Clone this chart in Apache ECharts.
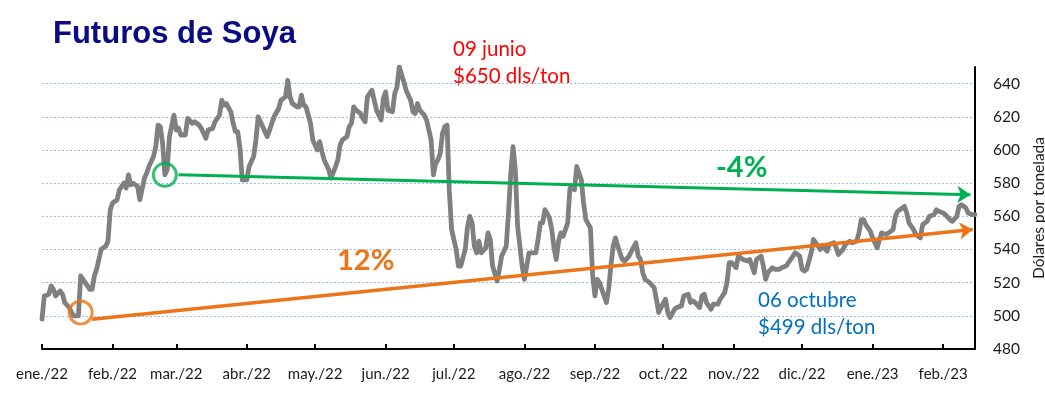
<!DOCTYPE html>
<html><head><meta charset="utf-8">
<script src="https://cdn.jsdelivr.net/npm/echarts@6/dist/echarts.min.js"></script>
<style>html,body{margin:0;padding:0;background:#fff}#c{width:1045px;height:395px}</style>
</head><body><div id="c"></div>
<script>
// ---- data ----
const dates = [
'2022-01-03','2022-01-04','2022-01-06','2022-01-07','2022-01-08','2022-01-09','2022-01-11','2022-01-12','2022-01-13','2022-01-15','2022-01-16','2022-01-17','2022-01-19','2022-01-20','2022-01-21','2022-01-23','2022-01-24','2022-01-25','2022-01-26','2022-01-27','2022-01-28','2022-01-29','2022-01-31',
'2022-02-01','2022-02-02','2022-02-03','2022-02-05','2022-02-06','2022-02-08','2022-02-09','2022-02-10','2022-02-11','2022-02-12','2022-02-14','2022-02-15','2022-02-17','2022-02-18','2022-02-19','2022-02-21','2022-02-22','2022-02-23','2022-02-24','2022-02-25','2022-02-26','2022-02-27','2022-02-28',
'2022-03-02','2022-03-03','2022-03-04','2022-03-05','2022-03-07','2022-03-08','2022-03-10','2022-03-11','2022-03-13','2022-03-14','2022-03-16','2022-03-17','2022-03-19','2022-03-20','2022-03-22','2022-03-23','2022-03-24','2022-03-25','2022-03-27','2022-03-28','2022-03-29','2022-03-30','2022-03-31',
'2022-04-01','2022-04-03','2022-04-04','2022-04-06','2022-04-07','2022-04-08','2022-04-10','2022-04-12','2022-04-14','2022-04-15','2022-04-17','2022-04-18','2022-04-20','2022-04-21','2022-04-22','2022-04-23','2022-04-25','2022-04-26','2022-04-27','2022-04-28','2022-04-29',
'2022-05-01','2022-05-02','2022-05-04','2022-05-05','2022-05-06','2022-05-07','2022-05-09','2022-05-10','2022-05-12','2022-05-13','2022-05-14','2022-05-15','2022-05-17','2022-05-18','2022-05-19','2022-05-20','2022-05-21','2022-05-23','2022-05-24','2022-05-25','2022-05-26','2022-05-28','2022-05-29','2022-05-30',
'2022-06-01','2022-06-02','2022-06-03','2022-06-04','2022-06-06','2022-06-07','2022-06-08','2022-06-09','2022-06-11','2022-06-12','2022-06-14','2022-06-15','2022-06-16','2022-06-17','2022-06-18','2022-06-20','2022-06-21','2022-06-23','2022-06-24','2022-06-25','2022-06-26','2022-06-27','2022-06-28','2022-06-29','2022-06-30',
'2022-07-01','2022-07-02','2022-07-04','2022-07-05','2022-07-06','2022-07-08','2022-07-09','2022-07-10','2022-07-11','2022-07-12','2022-07-13','2022-07-14','2022-07-15','2022-07-17','2022-07-18','2022-07-19','2022-07-20','2022-07-22','2022-07-23','2022-07-24','2022-07-26','2022-07-27','2022-07-28','2022-07-29','2022-07-30','2022-07-31',
'2022-08-02','2022-08-03','2022-08-04','2022-08-05','2022-08-06','2022-08-08','2022-08-09','2022-08-10','2022-08-11','2022-08-12','2022-08-14','2022-08-15','2022-08-16','2022-08-17','2022-08-18','2022-08-19','2022-08-20','2022-08-22','2022-08-23','2022-08-24','2022-08-25','2022-08-26','2022-08-28','2022-08-29','2022-08-30',
'2022-09-01','2022-09-02','2022-09-03','2022-09-04','2022-09-05','2022-09-06','2022-09-08','2022-09-09','2022-09-10','2022-09-11','2022-09-12','2022-09-13','2022-09-15','2022-09-16','2022-09-18','2022-09-19','2022-09-21','2022-09-22','2022-09-23','2022-09-24','2022-09-25','2022-09-27','2022-09-29','2022-09-30',
'2022-10-01','2022-10-02','2022-10-04','2022-10-05','2022-10-06','2022-10-08','2022-10-09','2022-10-11','2022-10-12','2022-10-14','2022-10-15','2022-10-16','2022-10-17','2022-10-19','2022-10-20','2022-10-21','2022-10-22','2022-10-24','2022-10-25','2022-10-27','2022-10-28','2022-10-30','2022-10-31',
'2022-11-01','2022-11-02','2022-11-04','2022-11-05','2022-11-06','2022-11-07','2022-11-09','2022-11-10','2022-11-11','2022-11-12','2022-11-13','2022-11-15','2022-11-16','2022-11-17','2022-11-18','2022-11-20','2022-11-21','2022-11-23','2022-11-24','2022-11-26','2022-11-27','2022-11-29','2022-11-30',
'2022-12-02','2022-12-03','2022-12-04','2022-12-05','2022-12-07','2022-12-08','2022-12-09','2022-12-11','2022-12-12','2022-12-14','2022-12-15','2022-12-17','2022-12-18','2022-12-19','2022-12-21','2022-12-22','2022-12-24','2022-12-25','2022-12-27','2022-12-28','2022-12-29','2022-12-30','2022-12-31',
'2023-01-02','2023-01-03','2023-01-05','2023-01-06','2023-01-07','2023-01-09','2023-01-10','2023-01-12','2023-01-13','2023-01-14','2023-01-16','2023-01-17','2023-01-18','2023-01-19','2023-01-21','2023-01-22','2023-01-24','2023-01-25','2023-01-27','2023-01-28','2023-01-30','2023-01-31',
'2023-02-01','2023-02-03','2023-02-04','2023-02-06','2023-02-07','2023-02-09','2023-02-10','2023-02-11','2023-02-13','2023-02-14','2023-02-16','2023-02-17'
];
const prices = [
498,512,513,518,516,512,515,513,508,505,502,500,500,524,522,518,516,516,524,528,534,540,542,
545,564,568,570,576,580,577,585,579,580,578,570,583,586,590,596,602,615,614,604,585,588,608,
621,612,613,609,609,619,616,617,615,613,607,612,613,617,621,630,627,628,623,616,611,611,601,
582,582,590,596,606,620,614,608,616,620,625,630,632,642,632,628,626,626,633,627,626,
616,606,600,605,599,594,588,583,590,594,603,606,608,614,616,626,624,622,619,617,632,636,630,624,
618,631,635,624,623,634,638,650,641,636,630,623,622,628,624,621,618,606,585,592,594,598,610,614,615,
575,552,540,530,530,540,554,560,556,542,538,545,538,541,550,546,530,521,528,536,542,562,586,602,588,554,
530,522,530,538,538,538,546,556,556,564,559,552,541,534,545,550,548,556,577,578,576,590,582,568,558,
553,524,512,522,520,516,508,516,530,542,547,542,534,533,536,539,544,536,534,526,522,520,517,510,
502,505,510,502,499,504,505,506,512,513,508,509,508,505,512,513,508,504,507,507,510,514,520,
532,532,529,536,535,534,533,534,530,526,534,536,530,522,526,529,528,528,529,530,532,536,538,
536,528,527,528,538,546,544,540,542,539,543,544,541,537,540,543,545,544,545,550,558,558,555,
551,547,541,546,550,549,550,552,560,563,565,566,562,556,552,549,547,555,557,560,561,564,
563,562,561,558,557,560,566,567,565,562,561,561
];
const tickDates = ['2022-01-03','2022-02-03','2022-03-03','2022-04-03','2022-05-03','2022-06-03','2022-07-03','2022-08-03','2022-09-03','2022-10-03','2022-11-03','2022-12-03','2023-01-03','2023-02-03'];
const tickLabels = ['ene./22','feb./22','mar./22','abr./22','may./22','jun./22','jul./22','ago./22','sep./22','oct./22','nov./22','dic./22','ene./23','feb./23'];
const axisRange = ['2022-01-03','2023-02-17'];
const yRange = [480, 650];
const yStep = 20;
const upTrendDates = ['2022-01-25','2023-02-16'];
const upTrendValues = [498, 552];
const downTrendDates = ['2022-03-04','2023-02-15'];
const downTrendValues = [585, 573];
const circleDates = ['2022-01-20','2022-02-26'];
const circleValues = [502, 585];
const titleText = 'Futuros de Soya';
const highNote = ['09 junio', '$650 dls/ton'];
const lowNote = ['06 octubre', '$499 dls/ton'];
const upLabel = '12%';
const downLabel = '-4%';
const yName = 'Dólares por tonelada';

// ---- helpers ----
function ts(s){const p=s.split('-').map(Number);return new Date(p[0],p[1]-1,p[2]).getTime();}
const tickTs = tickDates.map(ts);
const ORANGE = '#EC7419', GREEN = '#00B050';
const FONT = 'Lato, "Open Sans", sans-serif';

const chart = echarts.init(document.getElementById('c'), null, {renderer:'canvas'});
chart.setOption({
  animation:false,
  backgroundColor:'#fff',
  grid:{left:42, right:70, top:67, bottom:46, containLabel:false, outerBoundsMode:'none'},
  xAxis:{
    type:'value', min:ts(axisRange[0]), max:ts(axisRange[1]),
    axisLine:{show:true, lineStyle:{color:'#000', width:2}},
    axisTick:{show:true, inside:true, length:5, lineStyle:{color:'#000', width:2}, customValues:tickTs},
    axisLabel:{customValues:tickTs, color:'#1a1a1a', fontFamily:FONT, fontSize:15, margin:18,
      formatter:function(v){for(let i=0;i<tickTs.length;i++){if(Math.abs(tickTs[i]-v)<43200000)return tickLabels[i];}return '';}},
    splitLine:{show:false}
  },
  yAxis:{
    type:'value', position:'right', min:yRange[0], max:yRange[1], interval:yStep,
    axisLine:{show:true, lineStyle:{color:'#000', width:2}},
    axisTick:{show:false},
    axisLabel:{showMaxLabel:false, color:'#1a1a1a', fontFamily:FONT, fontSize:15.5, margin:18,
      formatter:function(v){return v>=yRange[1]?'':String(v);}},
    splitLine:{show:true, showMinLine:false, showMaxLine:false, lineStyle:{color:'#9DBDE3', type:[2,2], width:1}},
    name:yName, nameLocation:'middle', nameRotate:90, nameGap:44,
    nameTextStyle:{color:'#1a1a1a', fontFamily:FONT, fontSize:15.5}
  },
  series:[
    {
      type:'line', data:dates.map((d,i)=>[ts(d), prices[i]]),
      showSymbol:false, symbol:'none',
      lineStyle:{color:'#808080', width:4.8, join:'round', cap:'round'},
      z:2,
      markLine:{
        silent:true, animation:false, symbol:['none','arrow'], symbolSize:13,
        label:{show:false},
        data:[
          [{coord:[ts(upTrendDates[0]), upTrendValues[0]], lineStyle:{color:ORANGE, width:3.5, type:'solid'}, itemStyle:{color:ORANGE}},
           {coord:[ts(upTrendDates[1]), upTrendValues[1]], lineStyle:{color:ORANGE, width:3.5, type:'solid'}, itemStyle:{color:ORANGE}}],
          [{coord:[ts(downTrendDates[0]), downTrendValues[0]], lineStyle:{color:GREEN, width:3, type:'solid'}, itemStyle:{color:GREEN}},
           {coord:[ts(downTrendDates[1]), downTrendValues[1]], lineStyle:{color:GREEN, width:3, type:'solid'}, itemStyle:{color:GREEN}}]
        ]
      }
    },
    {
      type:'scatter', z:5, silent:true, symbol:'circle', symbolSize:23,
      data:circleDates.map((d,i)=>({value:[ts(d), circleValues[i]],
        itemStyle:{color:'rgba(0,0,0,0)', borderColor:i===0?ORANGE:GREEN, borderWidth:3}}))
    }
  ],
  graphic:[
    {type:'text', left:53, top:19, style:{text:titleText, font:'bold 31px "Liberation Sans", Arial, sans-serif', fill:'#0A0A85'}},
    {type:'text', left:453, top:36, style:{text:highNote[0]+'\n'+highNote[1], font:'20.5px '+FONT, fill:'#FF0000', lineHeight:27}},
    {type:'text', left:758, top:287, style:{text:lowNote[0]+'\n'+lowNote[1], font:'20.5px '+FONT, fill:'#0070C0', lineHeight:27}},
    {type:'text', left:716, top:153, style:{text:downLabel, font:'bold 29px '+FONT, fill:GREEN}},
    {type:'text', left:337, top:246, style:{text:upLabel, font:'bold 29px '+FONT, fill:ORANGE}}
  ]
});
</script></body></html>
